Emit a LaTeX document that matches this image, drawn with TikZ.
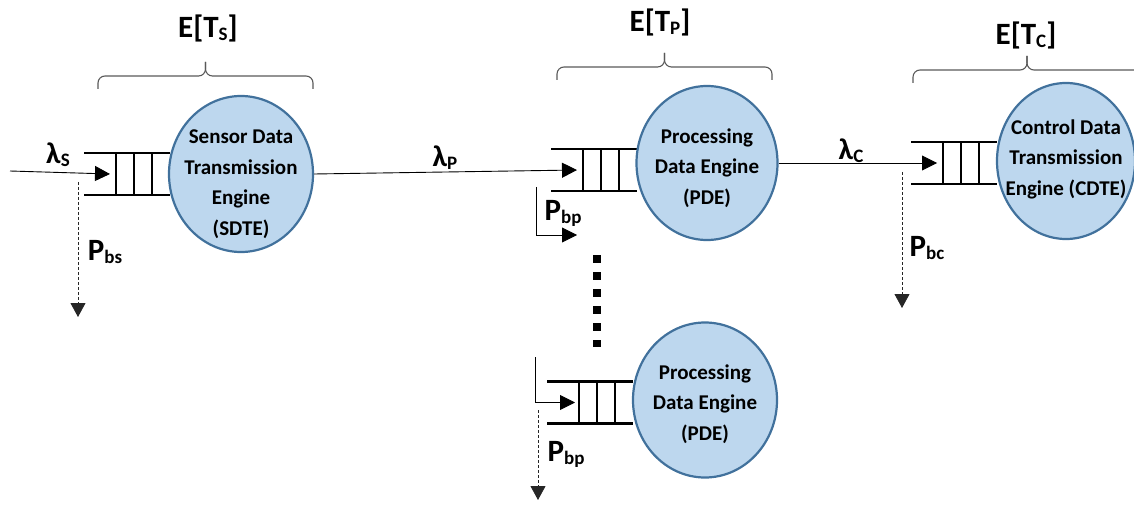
\documentclass[tikz,border=0pt]{standalone}
\usepackage{fontspec}
\setmainfont{Carlito}
\usetikzlibrary{arrows.meta,shapes.geometric,positioning,calc}
\definecolor{enginefill}{RGB}{189,215,238}
\definecolor{engineline}{RGB}{65,113,156}
\definecolor{bracegray}{RGB}{89,89,89}
\newcommand{\sbs}[1]{{\fontsize{19}{19}\selectfont\raisebox{-3pt}{#1}}}
\tikzset{
engine/.style  = {draw=engineline, fill=enginefill, ellipse, line width=2.2pt, minimum width=144, minimum height=156, inner sep=0pt},
engtext/.style = {inner sep=0pt, align=center, font=\fontsize{21}{30.5}\selectfont\bfseries},
queue/.style   = {line width=2.8pt},
flow/.style    = {-{Triangle[length=15pt,width=15pt]}, line width=0.9pt},
drop/.style    = {-{Triangle[length=14pt,width=15pt]}, dash pattern=on 3pt off 2pt, line width=0.8pt, draw=black!85},
lbl/.style     = {inner sep=0pt, font=\fontsize{31}{31}\selectfont\bfseries},
rate/.style    = {inner sep=0pt, font=\fontsize{30}{30}\selectfont\bfseries},
brace/.style   = {draw=bracegray, line width=1.1pt, rounded corners=7pt},
dots/.style    = {line width=8pt, dash pattern=on 8pt off 9pt}
}

\begin{document}
\begin{tikzpicture}[x=1pt, y=1pt]
  \useasboundingbox (0,0) rectangle (1134,504);

  % queue ends (at the engine's left side)
  \coordinate (qs) at (170,330);
  \coordinate (qp) at (637,334);
  \coordinate (qc) at (997,341);
  \coordinate (qb) at (633,101.5);

  \foreach \q in {qs,qp,qc,qb} {
    \draw [queue] ([shift={(-86,21)}]\q)  -- ++(86,0);
    \draw [queue] ([shift={(-86,-21)}]\q) -- ++(86,0);
    \foreach \dx in {-54,-36,-18}
      \draw [queue] ([shift={(\dx,21)}]\q) -- ++(0,-42);
  }

  \node [engine] (sdte) at (241,330)  {};
  \node [engine, minimum width=141, minimum height=154] (pde)  at (707,341) {};
  \node [engine, minimum width=138] (cdte) at (1066,343) {};
  \node [engine, minimum height=155] (pdeb) at (705,104) {};

  \node [engtext] (sdtetext) at ([yshift=-10]sdte.center) {Sensor Data\\Transmission\\Engine\\(SDTE)};
  \node [engtext] (pdetext)  at ([yshift=-5]pde.center)   {Processing\\Data Engine\\(PDE)};
  \node [engtext] (cdtetext) at ([yshift=2]cdte.center)   {Control Data\\Transmission\\Engine (CDTE)};
  \node [engtext] (pdebtext) at ([yshift=-4]pdeb.center)  {Processing\\Data Engine\\(PDE)};

  \coordinate (in)     at (10,333);
  \coordinate (pbstop) at (78,322);
  \coordinate (pbsend) at (78,187);
  \coordinate (pbptop) at (536,317);
  \coordinate (pbpend) at (577,269);
  \coordinate (pbctop) at (902,332);
  \coordinate (pbcend) at (902,196);
  \coordinate (lbtop)  at (535,147);
  \coordinate (pbbtop) at (538,94);
  \coordinate (pbbend) at (538,4);

  \draw [flow] (in) -- ([xshift=-60]qs);
  \draw [flow] (sdte.east) -- ([xshift=-60]qp);
  \draw [flow] (pde.east) -- ([xshift=-60]qc);
  \draw [flow] (pbptop) |- (pbpend);
  \draw [flow] (lbtop) |- ([xshift=-58]qb);

  \draw [drop] (pbstop) -- (pbsend);
  \draw [drop] (pbctop) -- (pbcend);
  \draw [drop] (pbbtop) -- (pbbend);

  \draw [dots] (597,249) -- (597,157);

  \node [rate] (lams) at (58,349)  {λ\sbs{S}};
  \node [rate] (lamp) at (445,346) {λ\sbs{P}};
  \node [rate] (lamc) at (851,353) {λ\sbs{C}};

  \node [lbl] (pbs)  at (105,252) {P\sbs{bs}};
  \node [lbl] (pbp)  at (563,291) {P\sbs{bp}};
  \node [lbl] (pbc)  at (927,256) {P\sbs{bc}};
  \node [lbl] (pbpb) at (566,50)  {P\sbs{bp}};

  % braces: left end / right end / bottom height
  \foreach \xa/\xb/\yb in {98/313/415, 557/772/424, 913/1141/421} {
    \draw [brace] (\xa,\yb) -- (\xa,\yb+13) -- ({(\xa+\xb)/2},\yb+13) -- ({(\xa+\xb)/2},\yb+27);
    \draw [brace] (\xb,\yb) -- (\xb,\yb+13) -- ({(\xa+\xb)/2},\yb+13) -- ({(\xa+\xb)/2},\yb+27);
  }

  \node [lbl] (ets) at (208,476)  {E[T\sbs{S}]};
  \node [lbl] (etp) at (660,482)  {E[T\sbs{P}]};
  \node [lbl] (etc) at (1026,469) {E[T\sbs{C}]};
\end{tikzpicture}
\end{document}
